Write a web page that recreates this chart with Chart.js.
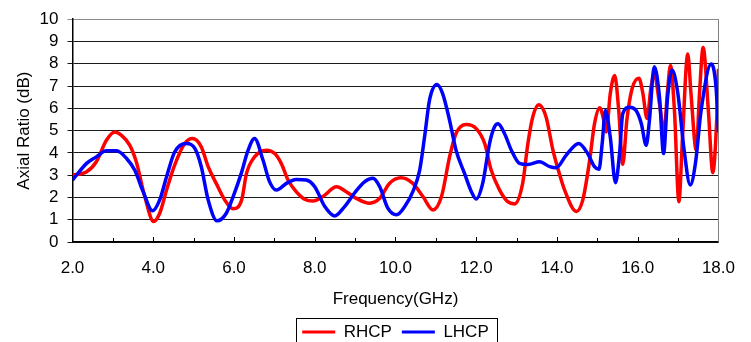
<!DOCTYPE html>
<html><head><meta charset="utf-8">
<script src="https://cdn.jsdelivr.net/npm/chart.js@4/dist/chart.umd.min.js"></script>
<style>html,body{margin:0;padding:0;background:#fff;overflow:hidden;width:751px;height:342px}#wrap{width:751px;height:342px;position:relative}</style>
</head><body><div id="wrap"><canvas id="c"></canvas></div>
<script>
const seriesNames = ['RHCP', 'LHCP'];
const rhcpFreq = [2.0,2.35,2.59,2.84,3.05,3.21,3.42,3.58,3.79,4.01,4.16,4.33,4.53,4.78,4.97,5.19,5.36,5.56,5.77,5.98,6.19,6.31,6.51,6.8,7.01,7.17,7.34,7.54,7.75,7.96,8.2,8.54,8.78,9.03,9.36,9.61,9.85,10.14,10.43,10.68,10.93,11.14,11.34,11.5,11.75,12.0,12.21,12.37,12.58,12.78,12.95,13.15,13.28,13.4,13.55,13.73,13.9,14.07,14.19,14.48,14.64,14.81,14.93,15.06,15.16,15.22,15.32,15.43,15.53,15.63,15.73,15.86,16.03,16.13,16.23,16.33,16.41,16.54,16.65,16.74,16.81,16.91,17.02,17.11,17.24,17.32,17.45,17.53,17.62,17.75,17.86,17.96,18.0];
const rhcpAR = [3.0,3.15,3.6,4.57,4.94,4.79,4.34,3.6,2.04,0.92,1.29,2.33,3.45,4.42,4.64,4.27,3.38,2.63,1.89,1.49,1.89,3.08,3.82,4.12,3.97,3.53,2.78,2.26,1.92,1.84,2.04,2.48,2.26,1.96,1.74,1.96,2.63,2.88,2.63,2.04,1.44,2.04,3.82,4.87,5.27,5.09,4.42,3.23,2.33,1.81,1.71,2.63,4.42,5.61,6.16,5.61,4.12,3.0,2.33,1.37,1.89,3.67,5.31,6.03,5.46,4.94,6.65,7.47,5.9,3.49,5.46,6.88,7.35,6.65,5.54,6.95,7.54,6.2,4.94,6.8,7.92,5.9,1.81,4.71,8.44,6.65,4.12,6.65,8.73,5.9,3.11,5.61,7.77];
const lhcpFreq = [2.0,2.35,2.59,2.84,3.09,3.34,3.54,3.75,3.98,4.16,4.33,4.53,4.82,5.03,5.19,5.36,5.58,5.81,5.98,6.18,6.35,6.51,6.72,6.88,7.05,7.3,7.54,7.79,8.0,8.25,8.49,8.74,8.99,9.24,9.44,9.61,9.81,10.03,10.23,10.43,10.6,10.72,10.85,11.03,11.17,11.34,11.5,11.71,11.88,12.0,12.16,12.33,12.45,12.54,12.7,12.87,13.07,13.28,13.57,13.82,13.98,14.23,14.54,14.76,14.93,15.04,15.12,15.2,15.32,15.45,15.55,15.63,15.8,15.96,16.09,16.21,16.29,16.41,16.54,16.64,16.74,16.85,16.99,17.15,17.3,17.43,17.57,17.82,17.94,18.0];
const lhcpAR = [2.78,3.53,3.82,4.09,4.09,3.75,3.23,2.26,1.4,1.89,2.93,4.04,4.42,4.2,3.38,1.89,0.95,1.29,2.04,3.08,4.12,4.64,3.67,2.71,2.33,2.63,2.81,2.78,2.48,1.59,1.17,1.59,2.21,2.71,2.86,2.48,1.52,1.22,1.59,2.26,3.23,4.71,6.43,7.07,6.65,5.46,4.12,3.08,2.26,1.93,2.63,4.42,5.16,5.31,4.87,4.12,3.53,3.48,3.6,3.38,3.33,3.9,4.42,3.97,3.38,3.26,4.42,5.9,4.71,2.66,3.97,5.76,6.05,5.9,5.31,4.34,5.46,7.87,6.5,3.97,6.5,7.72,6.72,4.12,2.56,3.53,5.9,7.99,6.95,4.94];
const xTickLabels = ['2.0','4.0','6.0','8.0','10.0','12.0','14.0','16.0','18.0'];
const yTickValues = [0,1,2,3,4,5,6,7,8,9,10];
const xTitle = 'Frequency(GHz)';
const yTitle = 'Axial Ratio (dB)';

const FONT = "'Liberation Sans', Arial, sans-serif";
const toPts = (xs, ys) => xs.map((x, i) => ({x: x, y: ys[i]}));

const framePlugin = {
  id: 'frame',
  afterLayout(chart) {
    const lg = chart.legend, a = chart.chartArea;
    if (lg) { lg.left = a.left; lg.right = a.right; lg.width = a.right - a.left; }
  },
  afterDraw(chart) {
    const ctx = chart.ctx, a = chart.chartArea, xs = chart.scales.x;
    ctx.save();
    ctx.strokeStyle = '#808080'; ctx.lineWidth = 1;
    ctx.beginPath(); ctx.moveTo(Math.round(a.right) + 0.5, a.top); ctx.lineTo(Math.round(a.right) + 0.5, a.bottom); ctx.stroke();
    ctx.strokeStyle = '#000'; ctx.lineWidth = 1;
    for (let v = 3; v < 18; v++) {
      const px = Math.round(xs.getPixelForValue(v)) + 0.5;
      const len = (v % 2 === 0) ? 5 : 4;
      ctx.beginPath(); ctx.moveTo(px, a.bottom); ctx.lineTo(px, a.bottom - len); ctx.stroke();
    }
    const lg = chart.legend;
    if (lg && lg.legendHitBoxes && lg.legendHitBoxes.length) {
      const hb = lg.legendHitBoxes;
      const l = hb[0].left - 6, r = hb[hb.length - 1].left + hb[hb.length - 1].width + 8;
      const cy = hb[0].top + hb[0].height / 2;
      ctx.strokeStyle = '#000'; ctx.lineWidth = 1;
      ctx.strokeRect(Math.round(l) + 0.5, Math.round(cy - 14) + 0.5, Math.round(r - l), 40);
    }
    ctx.restore();
  }
};

new Chart(document.getElementById('c'), {
  type: 'line',
  data: {
    datasets: [
      {label: seriesNames[0], data: toPts(rhcpFreq, rhcpAR), borderColor: '#FF0000', backgroundColor: '#FF0000', borderWidth: 3.5, pointRadius: 0, cubicInterpolationMode: 'monotone', order: 1},
      {label: seriesNames[1], data: toPts(lhcpFreq, lhcpAR), borderColor: '#0000FF', backgroundColor: '#0000FF', borderWidth: 3.5, pointRadius: 0, cubicInterpolationMode: 'monotone', order: 0}
    ]
  },
  options: {
    responsive: true, maintainAspectRatio: false, animation: false,
    layout: {padding: {top: 18, right: 31, left: 0, bottom: 0}},
    plugins: {
      tooltip: {enabled: false},
      legend: {
        position: 'bottom', maxHeight: 28.5,
        labels: {
          boxWidth: 33, boxHeight: 3, padding: 10, color: '#000',
          font: {family: FONT, size: 17},
          sort: (a, b) => a.datasetIndex - b.datasetIndex,
          generateLabels(chart) {
            return Chart.defaults.plugins.legend.labels.generateLabels(chart).map(it => Object.assign(it, {lineWidth: 0, strokeStyle: 'rgba(0,0,0,0)'}));
          }
        }
      }
    },
    scales: {
      x: {
        type: 'linear', min: 2, max: 18,
        afterFit(s) { s.height = 71.5; },
        afterBuildTicks(s) { s.ticks = xTickLabels.map(t => ({value: parseFloat(t)})); },
        ticks: {callback: (v) => xTickLabels.find(t => parseFloat(t) === v) || '', color: '#000', font: {family: FONT, size: 17}, padding: 16, maxRotation: 0, autoSkip: false},
        grid: {display: false, drawTicks: false},
        border: {display: true, color: '#000', width: 1.5},
        title: {display: true, text: xTitle, color: '#000', font: {family: FONT, size: 17}, padding: {top: 4, bottom: 4}}
      },
      y: {
        min: 0, max: 10,
        afterFit(s) { s.width = 72.5; },
        afterBuildTicks(s) { s.ticks = yTickValues.map(v => ({value: v})); },
        ticks: {color: '#000', font: {family: FONT, size: 17}, padding: 9, autoSkip: false},
        grid: {color: (c) => (c.tick && c.tick.value === 10) ? '#8a8a8a' : '#1a1a1a', lineWidth: 1, tickLength: 5, drawTicks: true},
        border: {display: true, color: '#000', width: 1.5},
        title: {display: true, text: yTitle, color: '#000', font: {family: FONT, size: 17}, padding: {top: 14, bottom: 0}}
      }
    }
  },
  plugins: [framePlugin]
});
</script>
</body></html>
